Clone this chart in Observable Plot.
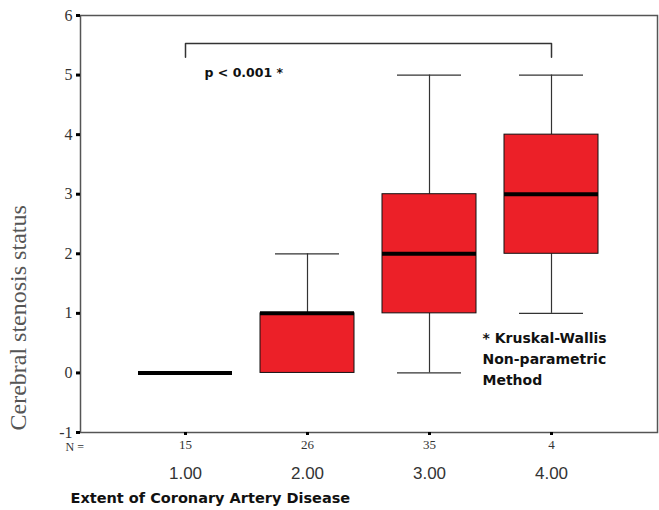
<!DOCTYPE html>
<html>
<head>
<meta charset="utf-8">
<script src="https://cdn.jsdelivr.net/npm/d3@7"></script>
<script src="https://cdn.jsdelivr.net/npm/@observablehq/plot@0.6"></script>
<style>
  html, body { margin: 0; padding: 0; background: #fff; }
  #chart { width: 659px; height: 510px; }
</style>
</head>
<body>
<div id="chart"></div>
<script>
// Data
const categories = ["1.00", "2.00", "3.00", "4.00"];
const nValues = [15, 26, 35, 4];
const mins = [0, 0, 0, 1];
const q1s = [0, 0, 1, 2];
const medians = [0, 1, 2, 3];
const q3s = [0, 1, 3, 4];
const maxs = [0, 2, 5, 5];
const yTicks = [-1, 0, 1, 2, 3, 4, 5, 6];

const yLabel = "Cerebral stenosis status";
const xLabel = "Extent of Coronary Artery Disease";
const pText = "p < 0.001 *";
const noteText = "* Kruskal-Wallis\nNon-parametric\nMethod";

// annotation levels (data units)
const bracketTop = 5.53;
const bracketDrop = 5.3;

const boxes = categories.map((c, i) => ({
  cat: c, n: nValues[i], min: mins[i], q1: q1s[i], med: medians[i], q3: q3s[i], max: maxs[i]
}));
const bracket = [
  {x: categories[0], y: bracketDrop},
  {x: categories[0], y: bracketTop},
  {x: categories[3], y: bracketTop},
  {x: categories[3], y: bracketDrop}
];

const red = "#ec2028";

const chart = Plot.plot({
  width: 659,
  height: 510,
  marginLeft: 80,
  marginRight: 2,
  marginTop: 15,
  marginBottom: 78,
  style: {background: "white", overflow: "visible"},
  x: {type: "band", domain: categories, paddingInner: 0.228, paddingOuter: 0.46},
  y: {domain: [-1, 6]},
  marks: [
    // whiskers
    Plot.ruleX(boxes.filter(d => d.max > d.q3), {x: "cat", y1: "q3", y2: "max", stroke: "#333", strokeWidth: 1.2}),
    Plot.ruleX(boxes.filter(d => d.min < d.q1), {x: "cat", y1: "min", y2: "q1", stroke: "#333", strokeWidth: 1.2}),
    Plot.tickY(boxes.filter(d => d.max > d.q3), {x: "cat", y: "max", stroke: "#333", strokeWidth: 1.2, insetLeft: 15, insetRight: 15}),
    Plot.tickY(boxes.filter(d => d.min < d.q1), {x: "cat", y: "min", stroke: "#333", strokeWidth: 1.2, insetLeft: 15, insetRight: 15}),
    // boxes
    Plot.barY(boxes.filter(d => d.q3 > d.q1), {x: "cat", y1: "q1", y2: "q3", fill: red, stroke: "#111", strokeWidth: 1}),
    // medians
    Plot.tickY(boxes, {x: "cat", y: "med", stroke: "#000", strokeWidth: 4}),
    // significance bracket
    Plot.line(bracket, {x: "x", y: "y", stroke: "#333", strokeWidth: 1.5}),
    Plot.text([pText], {x: () => categories[0], y: () => 5.03, text: d => d, textAnchor: "start", dx: 19,
      fontFamily: "DejaVu Sans", fontWeight: "bold", fontSize: 12.5, fill: "#111"}),
    Plot.text([noteText], {x: () => categories[3], y: () => 0.26, text: d => d, textAnchor: "start", dx: -69,
      lineHeight: 1.5, fontFamily: "DejaVu Sans", fontWeight: "bold", fontSize: 14, fill: "#111"}),
    // frame
    Plot.frame({stroke: "#555", strokeWidth: 1.5}),
    // y axis ticks and labels
    Plot.axisY({ticks: yTicks, tickSize: 4, strokeWidth: 3, stroke: "#000", text: null, label: null}),
    Plot.text(yTicks, {y: d => d, text: d => String(d), frameAnchor: "left", textAnchor: "end", dx: -8,
      fontFamily: "Liberation Serif", fontSize: 16, fill: "#333"}),
    Plot.text([yLabel], {frameAnchor: "bottom-left", rotate: -90, textAnchor: "start", dx: -55, dy: -2,
      fontFamily: "Liberation Serif", fontSize: 24, fill: "#555"}),
    // x axis: tick dots, N values, category labels
    Plot.axisX({tickSize: 3, strokeWidth: 3, stroke: "#000", text: null, label: null}),
    Plot.text(boxes, {x: "cat", text: d => String(d.n), frameAnchor: "bottom", dy: 16,
      fontFamily: "Liberation Serif", fontSize: 13, fill: "#333"}),
    Plot.text(boxes, {x: "cat", text: "cat", frameAnchor: "bottom", dy: 46,
      fontFamily: "Liberation Sans", fontSize: 17, fill: "#333"}),
    Plot.text(["N ="], {frameAnchor: "bottom-left", textAnchor: "start", dx: -15, dy: 18,
      fontFamily: "Liberation Serif", fontSize: 12, fill: "#333"}),
    Plot.text([xLabel], {frameAnchor: "bottom-left", textAnchor: "start", dx: -10, dy: 70,
      fontFamily: "DejaVu Sans", fontWeight: "bold", fontSize: 14.5, fill: "#111"})
  ]
});
document.getElementById("chart").appendChild(chart);
</script>
</body>
</html>
